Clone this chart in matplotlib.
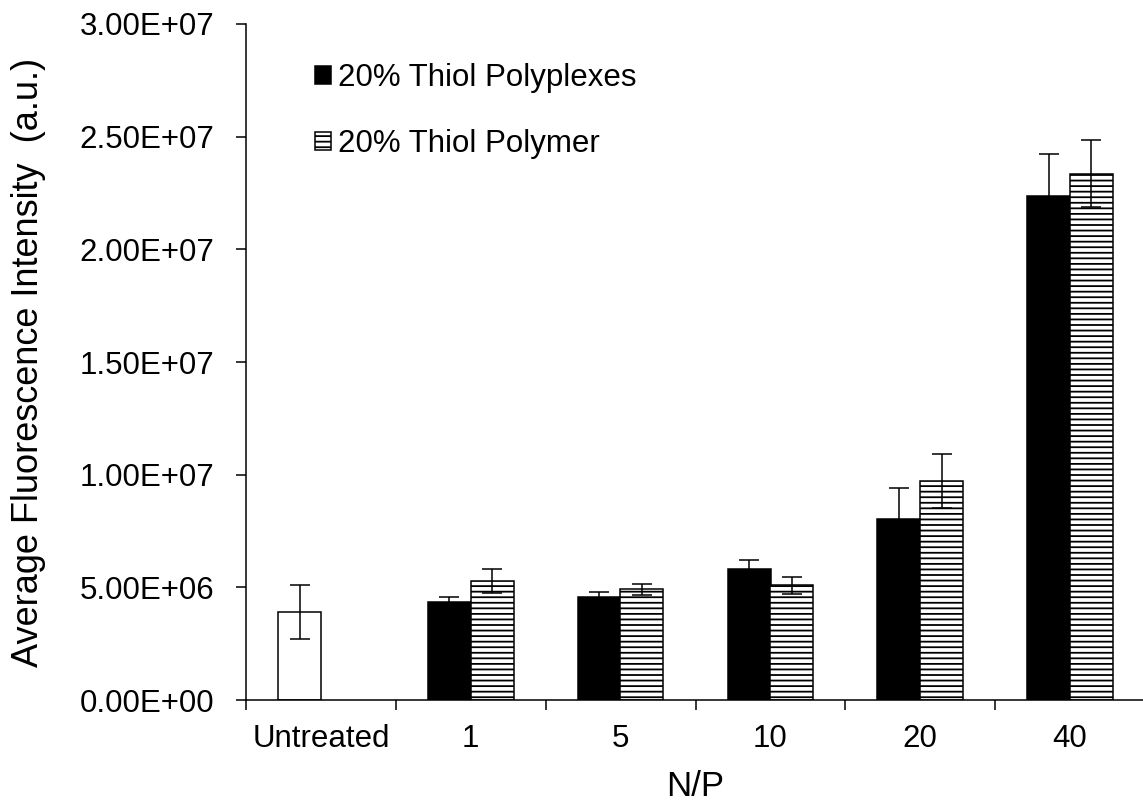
import matplotlib
matplotlib.use("Agg")
import matplotlib.pyplot as plt
import numpy as np
from matplotlib.ticker import FixedLocator, FuncFormatter

plt.rcParams['font.family'] = ['Liberation Sans', 'DejaVu Sans']
plt.rcParams['hatch.linewidth'] = 1.3

# Data
categories = ["Untreated", "1", "5", "10", "20", "40"]
untreated_value = 3.9e6
untreated_err = 1.2e6
polyplex_values = [4.36e6, 4.58e6, 5.83e6, 8.03e6, 2.238e7]
polyplex_err = [0.2e6, 0.2e6, 0.37e6, 1.4e6, 1.84e6]
polymer_values = [5.28e6, 4.91e6, 5.10e6, 9.72e6, 2.336e7]
polymer_err = [0.52e6, 0.26e6, 0.38e6, 1.2e6, 1.5e6]
series_labels = ["20% Thiol Polyplexes", "20% Thiol Polymer"]
y_ticks = [0, 5e6, 1e7, 1.5e7, 2e7, 2.5e7, 3e7]

W, H = 1143, 805
fig = plt.figure(figsize=(W / 100, H / 100), dpi=100)
ax = fig.add_axes([246 / W, 1 - 700 / H, (1145 - 246) / W, (700 - 24) / H])

centers = np.arange(len(categories)) + 0.5
bw = 0.287
off = 0.142
err_kw = dict(ecolor='black', elinewidth=1.1, capsize=7, capthick=1.1)

ax.bar(centers[0] - off, untreated_value, bw, yerr=untreated_err,
       color='white', edgecolor='black', linewidth=1.1, error_kw=err_kw, zorder=2)
ax.bar(centers[1:] - off, polyplex_values, bw, yerr=polyplex_err,
       color='black', edgecolor='black', linewidth=1.1, error_kw=err_kw,
       label=series_labels[0], zorder=2)
ax.bar(centers[1:] + off, polymer_values, bw, yerr=polymer_err,
       color='white', edgecolor='black', linewidth=1.1, hatch='---',
       error_kw=err_kw, label=series_labels[1], zorder=2)

ax.set_xlim(0, len(categories))
ax.set_ylim(0, 3e7)

for s in ['top', 'right']:
    ax.spines[s].set_visible(False)
for s in ['left', 'bottom']:
    ax.spines[s].set_linewidth(1.1)

ax.yaxis.set_major_locator(FixedLocator(y_ticks))
ax.yaxis.set_major_formatter(FuncFormatter(lambda v, p: f"{v:.2E}"))
ax.tick_params(axis='y', direction='out', length=7, width=1.1, pad=16,
               labelsize=22.5)

ax.set_xticks(centers)
ax.set_xticklabels(categories)
ax.xaxis.set_minor_locator(FixedLocator(np.arange(len(categories) + 1)))
ax.tick_params(axis='x', which='major', length=0, pad=17, labelsize=22.5)
ax.tick_params(axis='x', which='minor', direction='out', length=7, width=1.1)

ax.set_xlabel("N/P", fontsize=25)
ax.xaxis.set_label_coords(0.5, -0.104)
ax.set_ylabel("Average Fluorescence Intensity  (a.u.)", fontsize=26)
ax.yaxis.set_label_coords(-0.222, 0.5)

ax.legend(loc='upper left', bbox_to_anchor=((315 - 246) / 899, 1 - (63 - 24) / 676),
          frameon=False, fontsize=22.5, handlelength=0.5, handleheight=0.5,
          handletextpad=0.25, labelspacing=1.15, borderpad=0, borderaxespad=0)

fig.savefig("out.png", dpi=100)
